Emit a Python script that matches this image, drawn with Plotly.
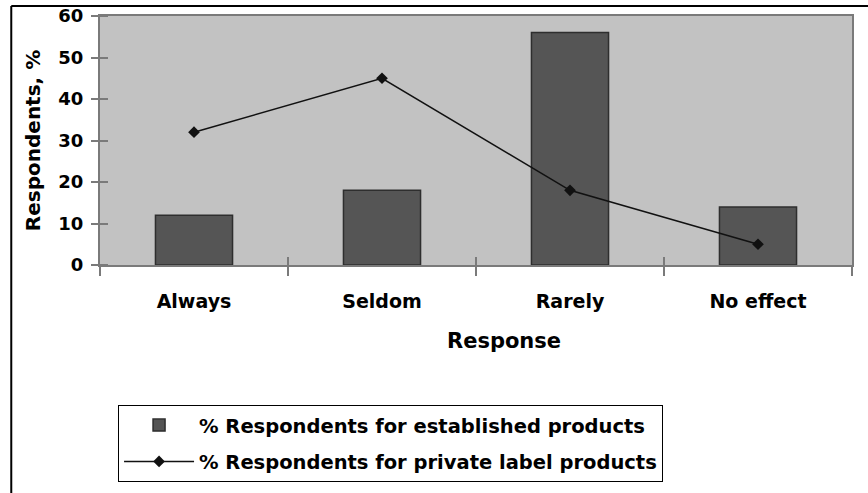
import plotly.graph_objects as go

categories = ["Always", "Seldom", "Rarely", "No effect"]
established = [12, 18, 56, 14]
private_label = [32, 45, 18, 5]
y_ticks = [0, 10, 20, 30, 40, 50, 60]

FONT = "DejaVu Sans"
AXIS_GRAY = "#7a7a7a"

fig = go.Figure()
fig.add_trace(go.Bar(
    x=categories, y=established,
    name="% Respondents for established products",
    marker=dict(color="#555555", line=dict(color="#2e2e2e", width=1.5)),
    width=0.41, legendgroup="a",
))
fig.add_trace(go.Scatter(
    x=categories, y=private_label,
    name="% Respondents for private label products",
    mode="lines+markers", xaxis="x2",
    line=dict(color="#111111", width=1.5),
    marker=dict(symbol="diamond", size=9, color="#111111"),
    legendgroup="b",
))

fig.update_layout(
    width=868, height=493,
    margin=dict(l=100, r=16, t=16, b=228, autoexpand=False),
    paper_bgcolor="white",
    plot_bgcolor="#c2c2c2",
    font=dict(family=FONT, color="black"),
    showlegend=True,
    xaxis=dict(
        type="category", categoryarray=categories, automargin=False,
        tickson="boundaries", ticks="outside", ticklen=9, tickwidth=1.5,
        tickcolor=AXIS_GRAY, showline=True, linecolor=AXIS_GRAY, linewidth=2,
        mirror=True, showgrid=False,
        tickfont=dict(family=FONT, size=19, color="black", weight="bold"),
        ticklabelstandoff=18,
    ),
    xaxis2=dict(
        type="category", categoryarray=categories, overlaying="x", matches="x",
        tickson="boundaries", ticks="inside", ticklen=8, tickwidth=1.5,
        tickcolor=AXIS_GRAY, showticklabels=False, showline=False, showgrid=False,
    ),
    yaxis=dict(
        range=[0, 60], tickvals=y_ticks, ticks="outside", ticklen=7, tickwidth=1.5,
        tickcolor=AXIS_GRAY, showline=True, linecolor=AXIS_GRAY, linewidth=2,
        mirror=True, showgrid=False, zeroline=False, automargin=False,
        minor=dict(tickvals=y_ticks, ticks="inside", ticklen=8, tickwidth=1.5,
                   tickcolor=AXIS_GRAY, showgrid=False),
        tickfont=dict(family=FONT, size=18, color="black", weight="bold"),
        ticklabelstandoff=4,
        title=dict(text="Respondents, %", standoff=12,
                   font=dict(family=FONT, size=20, color="black", weight="bold")),
    ),
    legend=dict(
        x=0.024, y=-0.562, xanchor="left", yanchor="top",
        bordercolor="black", borderwidth=1, bgcolor="white",
        font=dict(family=FONT, size=19.5, color="black", weight="bold"),
        traceorder="grouped", tracegroupgap=8, itemwidth=70,
    ),
    annotations=[dict(
        text="Response", xref="paper", yref="paper", x=0.537, y=-0.305,
        xanchor="center", yanchor="middle", showarrow=False,
        font=dict(family=FONT, size=21, color="black", weight="bold"),
    )],
    shapes=[
        dict(type="line", xref="paper", yref="paper", x0=-0.118, x1=1.03,
             y0=1.040, y1=1.040, line=dict(color="black", width=2)),
        dict(type="line", xref="paper", yref="paper", x0=-0.118, x1=-0.118,
             y0=1.040, y1=-1.0, line=dict(color="black", width=2)),
    ],
)

fig.write_html("out.html", config={"displayModeBar": False},
               post_script="document.body.style.margin='0';")
